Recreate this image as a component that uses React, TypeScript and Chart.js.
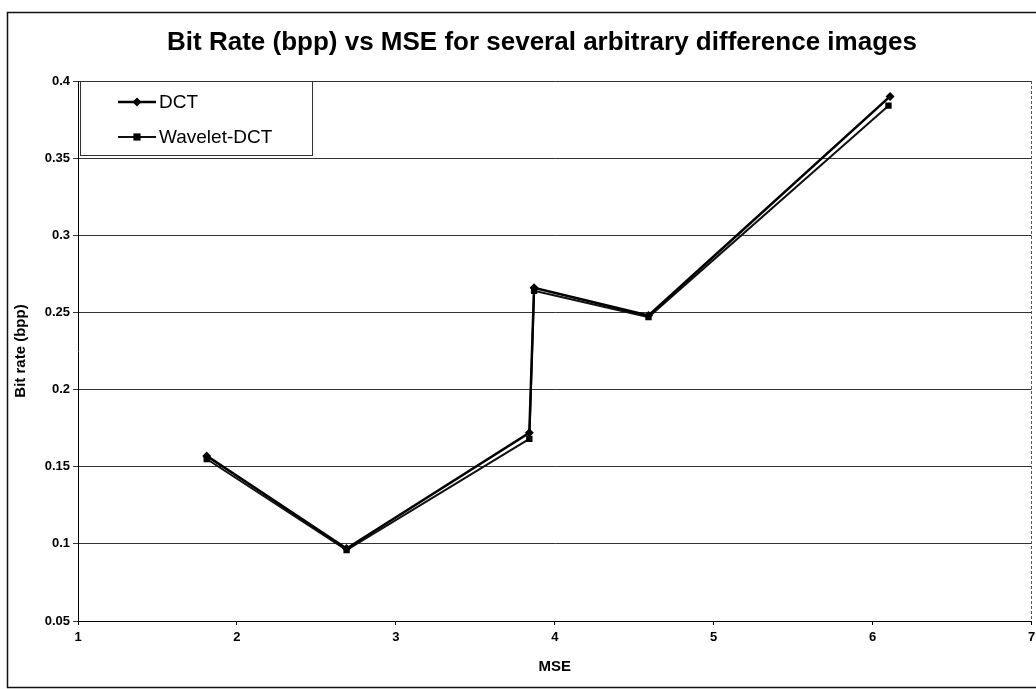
import React, { useEffect, useRef } from "react";
import { Chart, registerables } from "chart.js";

Chart.register(...registerables);

const chartTitle = "Bit Rate (bpp) vs MSE for several arbitrary difference images";
const xAxisTitle = "MSE";
const yAxisTitle = "Bit rate (bpp)";

const dctMSE = [1.81, 2.69, 3.84, 3.87, 4.59, 6.11];
const dctRate = [0.157, 0.097, 0.172, 0.266, 0.248, 0.39];

const wavMSE = [1.81, 2.69, 3.84, 3.87, 4.59, 6.1];
const wavRate = [0.155, 0.096, 0.168, 0.264, 0.247, 0.384];

const seriesNames = ["DCT", "Wavelet-DCT"];

const xTickLabels = ["1", "2", "3", "4", "5", "6", "7"];
const yTickLabels = ["0.05", "0.1", "0.15", "0.2", "0.25", "0.3", "0.35", "0.4"];

const FONT = 'Arial, "Liberation Sans", Helvetica, sans-serif';

function drawMarker(ctx: CanvasRenderingContext2D, style: string, x: number, y: number, r: number, color: string) {
  ctx.save();
  ctx.fillStyle = color;
  ctx.beginPath();
  if (style === "rectRot") {
    ctx.moveTo(x, y - r);
    ctx.lineTo(x + r, y);
    ctx.lineTo(x, y + r);
    ctx.lineTo(x - r, y);
    ctx.closePath();
  } else {
    ctx.rect(x - r * 0.8, y - r * 0.8, r * 1.6, r * 1.6);
  }
  ctx.fill();
  ctx.restore();
}

const framePlugin = {
  id: "frame",
  beforeDraw(chart: any) {
    const { ctx, width, height } = chart;
    ctx.save();
    ctx.fillStyle = "#ffffff";
    ctx.fillRect(0, 0, width, height);
    ctx.strokeStyle = "#111";
    ctx.lineWidth = 1.5;
    ctx.strokeRect(7.5, 12.5, width + 20, height - 14);
    // title
    ctx.fillStyle = "#000";
    ctx.font = `bold 26px ${FONT}`;
    ctx.textAlign = "center";
    ctx.textBaseline = "middle";
    ctx.fillText(chartTitle, 542, 43);
    ctx.restore();
  },
  beforeDatasetsDraw(chart: any) {
    const { ctx, chartArea } = chart;
    ctx.save();
    ctx.strokeStyle = "#555";
    ctx.lineWidth = 1;
    ctx.setLineDash([3, 2]);
    ctx.beginPath();
    ctx.moveTo(Math.round(chartArea.right) - 0.5, chartArea.top);
    ctx.lineTo(Math.round(chartArea.right) - 0.5, chartArea.bottom);
    ctx.stroke();
    ctx.restore();
  },
  afterDatasetsDraw(chart: any) {
    const { ctx, chartArea } = chart;
    const left = chartArea.left + 2;
    const top = chartArea.top;
    const w = 232;
    const h = 74;
    ctx.save();
    ctx.fillStyle = "#ffffff";
    ctx.fillRect(left, top, w, h);
    ctx.strokeStyle = "#333";
    ctx.lineWidth = 1;
    ctx.setLineDash([]);
    ctx.strokeRect(left + 0.5, top + 0.5, w, h);
    ctx.font = `19px ${FONT}`;
    ctx.textBaseline = "middle";
    ctx.fillStyle = "#000";
    chart.data.datasets.forEach((ds: any, i: number) => {
      const y = top + 21 + i * 35;
      ctx.strokeStyle = ds.borderColor;
      ctx.lineWidth = ds.borderWidth;
      ctx.beginPath();
      ctx.moveTo(left + 38, y);
      ctx.lineTo(left + 76, y);
      ctx.stroke();
      drawMarker(ctx, ds.pointStyle, left + 57, y, ds.pointRadius, "#000");
      ctx.fillStyle = "#000";
      ctx.fillText(ds.label, left + 79, y + 1);
    });
    ctx.restore();
  },
};

export default function App() {
  const canvasRef = useRef<HTMLCanvasElement | null>(null);

  useEffect(() => {
    if (!canvasRef.current) return;
    Chart.defaults.font.family = FONT;
    const chart = new Chart(canvasRef.current, {
      type: "line",
      data: {
        datasets: [
          {
            label: seriesNames[0],
            data: dctMSE.map((x, i) => ({ x, y: dctRate[i] })),
            borderColor: "#000000",
            backgroundColor: "#000000",
            borderWidth: 2.5,
            pointStyle: "rectRot",
            pointRadius: 4.5,
            pointBackgroundColor: "#000",
            pointBorderColor: "#000",
            pointBorderWidth: 0,
            tension: 0,
          },
          {
            label: seriesNames[1],
            data: wavMSE.map((x, i) => ({ x, y: wavRate[i] })),
            borderColor: "#111111",
            backgroundColor: "#000000",
            borderWidth: 2,
            pointStyle: "rect",
            pointRadius: 4.5,
            pointBackgroundColor: "#000",
            pointBorderColor: "#000",
            pointBorderWidth: 0,
            tension: 0,
          },
        ],
      },
      options: {
        responsive: false,
        animation: false,
        layout: { padding: { top: 81, right: 0, left: 0, bottom: 0 } },
        plugins: {
          legend: { display: false },
          tooltip: { enabled: false },
          title: { display: false },
        },
        scales: {
          x: {
            type: "linear",
            min: 1,
            max: 7,
            ticks: {
              stepSize: 1,
              color: "#000",
              font: { size: 13, weight: "bold", family: FONT },
              padding: 5,
              callback: (_v: any, i: number) => xTickLabels[i],
            },
            grid: { drawOnChartArea: false, color: "#000", tickLength: 4 },
            border: { color: "#000", width: 1 },
            title: {
              display: true,
              text: xAxisTitle,
              color: "#000",
              font: { size: 15, weight: "bold", family: FONT },
              padding: { top: 8, bottom: 13 },
            },
            afterFit: (scale: any) => {
              scale.height = 68;
              scale.paddingRight = 4;
            },
          },
          y: {
            min: 0.05,
            max: 0.4,
            ticks: {
              stepSize: 0.05,
              color: "#000",
              font: { size: 13, weight: "bold", family: FONT },
              padding: 3,
              callback: (_v: any, i: number) => yTickLabels[i],
            },
            grid: { color: "#333", lineWidth: 1, tickLength: 5 },
            border: { color: "#000", width: 1 },
            title: {
              display: true,
              text: yAxisTitle,
              color: "#000",
              font: { size: 15, weight: "bold", family: FONT },
              padding: { top: 12, bottom: 6 },
            },
            afterFit: (scale: any) => {
              scale.width = 78;
            },
          },
        },
      } as any,
      plugins: [framePlugin],
    });
    return () => chart.destroy();
  }, []);

  return (
    <div style={{ position: "absolute", left: 0, top: 0, width: 1036, height: 689, background: "#fff" }}>
      <canvas ref={canvasRef} width={1036} height={689} />
    </div>
  );
}
